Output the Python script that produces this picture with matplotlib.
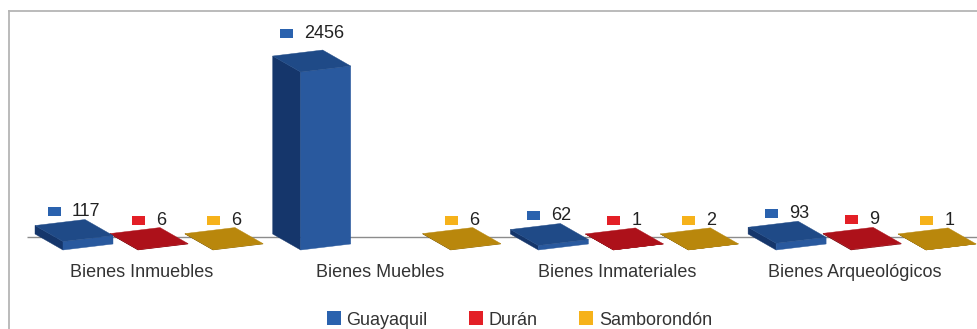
import matplotlib
matplotlib.use("Agg")
import matplotlib.pyplot as plt
from matplotlib.patches import Polygon, Rectangle, Patch
from matplotlib.offsetbox import HPacker, TextArea, DrawingArea, AnnotationBbox
from matplotlib.lines import Line2D

plt.rcParams['font.family'] = ['Liberation Sans', 'DejaVu Sans']

# ---- data -------------------------------------------------------------
categories = ["Bienes Inmuebles", "Bienes Muebles", "Bienes Inmateriales", "Bienes Arqueológicos"]
series_names = ["Guayaquil", "Durán", "Samborondón"]
guayaquil = [117, 2456, 62, 93]
duran = [6, None, 1, 9]
samborondon = [6, 6, 2, 1]
series_values = [guayaquil, duran, samborondon]

# ---- style ------------------------------------------------------------
marker_colors = ["#2a62ae", "#e31f26", "#f6b21a"]
face_colors = [  # (front, left side, top)
    ("#29599e", "#15366b", "#1f4a87"),
    ("#8e0c14", "#6c0a0f", "#ad111a"),
    ("#9a720b", "#7a5a08", "#b9870c"),
]
text_color = "#333333"

W_PX, H_PX, DPI = 978, 329, 100
PX_PER_CAT = 237.7        # horizontal pixels between categories
VAL_PER_PX = 13.8         # value units per vertical pixel
CAT0_PX = 142             # pixel column of the first category
FLOOR_PX = 250            # pixel row of the bars' front-bottom edge


def px_x(p):
    return p / PX_PER_CAT


def px_y(p):
    return p * VAL_PER_PX


# bar geometry (pseudo-3D prism)
SERIES_OFFSET = [px_x(-79), px_x(-4), px_x(71)]
BAR_W = px_x(50)
FRONT_RISE = px_y(6)
DEPTH_X, DEPTH_Y = px_x(-28), px_y(16)
LABEL_GAP = px_y(18.5)
LABEL_RISE = 0.053

fig = plt.figure(figsize=(W_PX / DPI, H_PX / DPI), dpi=DPI)
ax = fig.add_axes([0, 0, 1, 1])
ax.set_xlim(-CAT0_PX / PX_PER_CAT, (W_PX - CAT0_PX) / PX_PER_CAT)
ax.set_ylim(-px_y(H_PX - FLOOR_PX), px_y(FLOOR_PX))
ax.axis("off")

# floor line
ax.plot([px_x(27 - CAT0_PX), px_x(W_PX - CAT0_PX)], [px_y(13), px_y(13)],
        color="#8c8c8c", lw=1.0, zorder=1, solid_capstyle="butt")

z = 100
for ci in range(len(categories)):
    for si in range(len(series_values)):
        v = series_values[si][ci]
        if v is None:
            continue
        x0 = ci + SERIES_OFFSET[si]
        fbl = (x0, 0.0)
        fbr = (x0 + BAR_W, FRONT_RISE)
        bl = (fbl[0] + DEPTH_X, fbl[1] + DEPTH_Y)
        br = (fbr[0] + DEPTH_X, fbr[1] + DEPTH_Y)

        def up(p):
            return (p[0], p[1] + v)

        front_c, side_c, top_c = face_colors[si]
        zz = z - (ci * 3 + si)
        side = Polygon([fbl, bl, up(bl), up(fbl)], closed=True, fc=side_c,
                       ec=side_c, lw=0.3, zorder=zz)
        front = Polygon([fbl, fbr, up(fbr), up(fbl)], closed=True, fc=front_c,
                        ec=front_c, lw=0.3, zorder=zz + 0.1)
        top = Polygon([up(fbl), up(fbr), up(br), up(bl)], closed=True, fc=top_c,
                      ec=top_c, lw=0.3, zorder=zz + 0.2)
        for p in (side, front, top):
            ax.add_patch(p)

        # value label: coloured key + number above the bar's top face
        cx = x0 + BAR_W / 2 + DEPTH_X / 2
        cy = v + FRONT_RISE / 2 + DEPTH_Y / 2 + LABEL_GAP + LABEL_RISE * v
        key = DrawingArea(9.4, 6.5, 0, 0)
        key.add_artist(Rectangle((0, 0), 9.4, 6.5, fc=marker_colors[si], ec="none"))
        num = TextArea(str(v), textprops=dict(fontsize=13, color="#222222"))
        box = HPacker(children=[key, num], align="baseline", pad=0, sep=8)
        ab = AnnotationBbox(box, (cx, cy), box_alignment=(0.5, 0.5),
                            frameon=False, pad=0, zorder=200)
        ax.add_artist(ab)

# category labels
for ci, name in enumerate(categories):
    ax.text(ci, -px_y(277 - FLOOR_PX), name, ha="center", va="baseline",
            fontsize=13, color=text_color)

# legend
handles = [Patch(facecolor=c, edgecolor="none", label=n)
           for c, n in zip(marker_colors, series_names)]
fig.legend(handles=handles, loc="center", ncol=3, frameon=False,
           bbox_to_anchor=(519.5 / W_PX, 1 - 320 / H_PX), fontsize=13,
           handlelength=0.78, handleheight=0.78, handletextpad=0.3,
           columnspacing=2.3, labelcolor=text_color, borderpad=0)

# outer frame (left and top edges)
fx = 8.5 / W_PX
fy = 1 - 11.3 / H_PX
fig.add_artist(Line2D([fx, fx], [0, fy], transform=fig.transFigure,
                      color="#b5b5b5", lw=1.3))
fig.add_artist(Line2D([fx, 1], [fy, fy], transform=fig.transFigure,
                      color="#b5b5b5", lw=1.3))

fig.savefig("out.png", dpi=DPI)
